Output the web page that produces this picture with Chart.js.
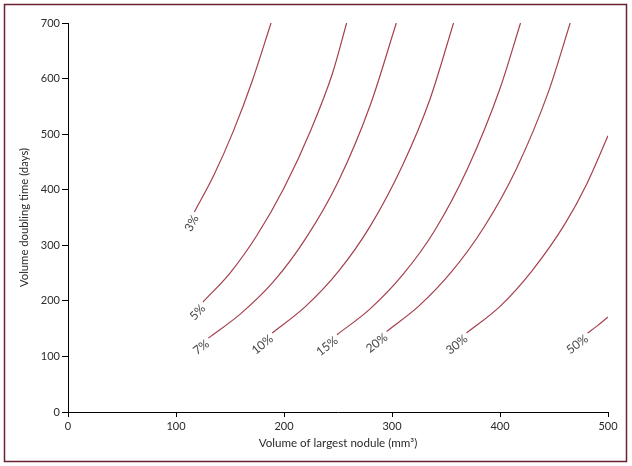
<!DOCTYPE html>
<html>
<head>
<meta charset="utf-8">
<script src="https://cdn.jsdelivr.net/npm/chart.js@4.4.1/dist/chart.umd.min.js"></script>
<style>
  html, body { margin: 0; padding: 0; background: #ffffff; }
  #wrap { width: 632px; height: 466px; position: relative; }
</style>
</head>
<body>
<div id="wrap"><canvas id="c" width="632" height="466"></canvas></div>
<script>
// Contour labels (risk levels)
const curveLabels = ["3%", "5%", "7%", "10%", "15%", "20%", "30%", "50%"];

// Volume of largest nodule (mm³) / volume doubling time (days) for each contour
const x3  = [117, 135, 153, 171, 188];
const y3  = [360, 426, 505, 598, 700];

const x5  = [125, 150, 175, 200, 225, 245, 258];
const y5  = [198, 250, 318, 403, 508, 610, 700];

const x7  = [130, 160, 190, 220, 250, 280, 304];
const y7  = [133, 177, 234, 312, 414, 553, 700];

const x10 = [189, 220, 250, 280, 310, 335, 357];
const y10 = [142, 190, 252, 335, 445, 562, 700];

const x15 = [249, 280, 310, 340, 370, 400, 419];
const y15 = [139, 186, 247, 328, 438, 582, 700];

const x20 = [295, 325, 355, 385, 415, 445, 465];
const y20 = [145, 191, 252, 332, 437, 577, 700];

const x30 = [369, 400, 430, 460, 480, 500];
const y30 = [142, 190, 255, 338, 409, 497];

const x50 = [481, 490, 500];
const y50 = [142, 155, 171];

const xTicks = [0, 100, 200, 300, 400, 500];
const yTicks = [0, 100, 200, 300, 400, 500, 600, 700];

const seriesX = [x3, x5, x7, x10, x15, x20, x30, x50];
const seriesY = [y3, y5, y7, y10, y15, y20, y30, y50];

const lineColor = '#a5404e';
const FONT = 'Lato, "Open Sans", sans-serif';

const datasets = seriesX.map((xs, i) => ({
  label: curveLabels[i],
  data: xs.map((x, j) => ({ x: x, y: seriesY[i][j] })),
  borderColor: lineColor,
  borderWidth: 1.2,
  pointRadius: 0,
  fill: false,
  cubicInterpolationMode: 'monotone',
  tension: 0.4
}));

const frameAndLabels = {
  id: 'frameAndLabels',
  beforeDraw(chart) {
    const ctx = chart.ctx;
    ctx.save();
    ctx.fillStyle = '#ffffff';
    ctx.fillRect(0, 0, chart.width, chart.height);
    ctx.restore();
  },
  afterDraw(chart) {
    const ctx = chart.ctx;
    ctx.save();
    // curve labels
    ctx.font = '12px ' + FONT;
    ctx.fillStyle = '#454545';
    ctx.textAlign = 'right';
    ctx.textBaseline = 'middle';
    chart.data.datasets.forEach((ds, i) => {
      const meta = chart.getDatasetMeta(i);
      const p0 = meta.data[0], p1 = meta.data[1];
      const ang = Math.atan2(p1.y - p0.y, p1.x - p0.x);
      ctx.save();
      ctx.translate(p0.x, p0.y);
      ctx.rotate(ang);
      ctx.fillText(ds.label, -3, 3);
      ctx.restore();
    });
    // outer frame
    ctx.strokeStyle = '#6a2233';
    ctx.lineWidth = 1.5;
    ctx.strokeRect(4.5, 4.5, 622, 457);
    ctx.restore();
  }
};

new Chart(document.getElementById('c'), {
  type: 'line',
  data: { datasets: datasets },
  options: {
    responsive: false,
    animation: false,
    events: [],
    layout: { padding: { left: 0, right: 24, top: 23, bottom: 0 } },
    plugins: { legend: { display: false }, tooltip: { enabled: false } },
    scales: {
      x: {
        type: 'linear',
        min: 0, max: 500,
        afterFit(s) { s.height = 54; },
        afterBuildTicks(s) { s.ticks = xTicks.map(v => ({ value: v })); },
        ticks: { color: '#2a2a2a', font: { family: FONT, size: 11 }, padding: 3 },
        grid: { drawOnChartArea: false, drawTicks: true, tickLength: 5, color: '#000', lineWidth: 1 },
        border: { display: true, color: '#000', width: 1 },
        title: {
          display: true,
          text: 'Volume of largest nodule (mm³)',
          color: '#2a2a2a',
          font: { family: FONT, size: 11.6 },
          padding: { top: 0, bottom: 16 }
        }
      },
      y: {
        type: 'linear',
        min: 0, max: 700,
        afterFit(s) { s.width = 68; },
        afterBuildTicks(s) { s.ticks = yTicks.map(v => ({ value: v })); },
        ticks: { color: '#2a2a2a', font: { family: FONT, size: 11 }, padding: 2 },
        grid: { drawOnChartArea: false, drawTicks: true, tickLength: 6, color: '#000', lineWidth: 1 },
        border: { display: true, color: '#000', width: 1 },
        title: {
          display: true,
          text: 'Volume doubling time (days)',
          color: '#2a2a2a',
          font: { family: FONT, size: 11.3 },
          padding: { top: 18, bottom: 0 }
        }
      }
    }
  },
  plugins: [frameAndLabels]
});
</script>
</body>
</html>
